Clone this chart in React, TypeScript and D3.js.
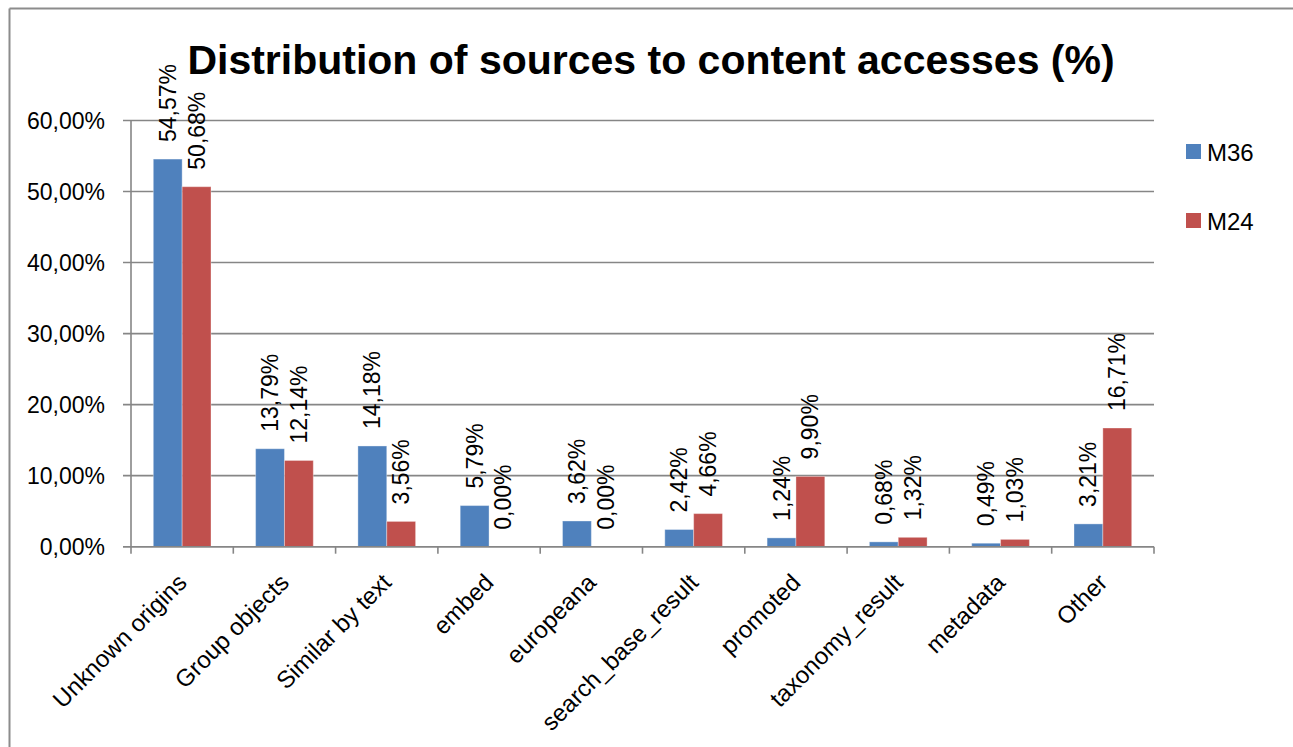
import React, { useEffect } from "react";
import * as d3 from "d3";

const categories = [
  "Unknown origins",
  "Group objects",
  "Similar by text",
  "embed",
  "europeana",
  "search_base_result",
  "promoted",
  "taxonomy_result",
  "metadata",
  "Other",
];
const seriesNames = ["M36", "M24"];
const m36 = [54.57, 13.79, 14.18, 5.79, 3.62, 2.42, 1.24, 0.68, 0.49, 3.21];
const m24 = [50.68, 12.14, 3.56, 0.0, 0.0, 4.66, 9.9, 1.32, 1.03, 16.71];
const yTicks = [0, 10, 20, 30, 40, 50, 60];
const colors = ["#4F81BD", "#C0504D"];
const title = "Distribution of sources to content accesses (%)";

const fmt = (v: number) => v.toFixed(2).replace(".", ",") + "%";

export default function App() {
  useEffect(() => {
    document.body.style.margin = "0";
    document.body.style.overflow = "hidden";
  }, []);

  const W = 1293;
  const H = 747;
  const left = 131;
  const right = 1154;
  const top = 120.5;
  const bottom = 546.7;
  const font = "'Liberation Sans', Arial, sans-serif";

  const x0 = d3.scaleBand<string>().domain(categories).range([left, right]).padding(0);
  const bw = x0.bandwidth();
  const x1 = d3
    .scaleBand<string>()
    .domain(seriesNames)
    .range([bw * 0.218, bw * 0.782])
    .padding(0);
  const y = d3.scaleLinear().domain([0, 60]).range([bottom, top]);
  const values = [m36, m24];

  return (
    <svg
      width={W}
      height={H}
      style={{ position: "absolute", left: 0, top: 0, background: "#fff", display: "block" }}
      fontFamily={font}
    >
      <rect x={0} y={0} width={W} height={H} fill="#fff" />
      <line x1={9.5} x2={W} y1={8.5} y2={8.5} stroke="#8c8c8c" strokeWidth={2} />
      <line x1={9.5} x2={9.5} y1={8.5} y2={H} stroke="#8c8c8c" strokeWidth={2} />
      <text
        x={651}
        y={74}
        textAnchor="middle"
        fontSize={41}
        fontWeight="bold"
        fill="#000"
      >
        {title}
      </text>

      {/* gridlines and y ticks */}
      {yTicks.map((t) => (
        <g key={t}>
          <line
            x1={left - 8}
            x2={right}
            y1={y(t)}
            y2={y(t)}
            stroke="#868686"
            strokeWidth={1.6}
          />
          <text
            x={105}
            y={y(t)}
            textAnchor="end"
            dominantBaseline="central"
            fontSize={23}
            fill="#000"
          >
            {t.toFixed(2).replace(".", ",") + "%"}
          </text>
        </g>
      ))}
      {/* y axis */}
      <line x1={left} x2={left} y1={top} y2={bottom} stroke="#868686" strokeWidth={1.6} />

      {/* bars */}
      {categories.map((c, i) => (
        <g key={c}>
          {seriesNames.map((s, j) => {
            const v = values[j][i];
            const bx = (x0(c) as number) + (x1(s) as number);
            const w = x1.bandwidth();
            return (
              <g key={s}>
                <rect
                  x={bx}
                  y={y(v)}
                  width={w}
                  height={bottom - y(v)}
                  fill={colors[j]}
                  stroke="#ffffff"
                  strokeOpacity={0.35}
                  strokeWidth={1}
                />
                <text
                  transform={`translate(${bx + w / 2},${y(v) - 17}) rotate(-90)`}
                  textAnchor="start"
                  dominantBaseline="central"
                  fontSize={23}
                  fill="#000"
                >
                  {fmt(v)}
                </text>
              </g>
            );
          })}
        </g>
      ))}

      {/* x axis */}
      <line x1={left - 8} x2={right} y1={bottom} y2={bottom} stroke="#868686" strokeWidth={1.6} />
      {d3.range(categories.length + 1).map((k) => {
        const xx = left + k * bw;
        return (
          <line key={k} x1={xx} x2={xx} y1={bottom} y2={bottom + 7} stroke="#868686" strokeWidth={1.6} />
        );
      })}
      {categories.map((c) => {
        const cx = (x0(c) as number) + bw / 2;
        return (
          <text
            key={c}
            transform={`translate(${cx + 6},${584}) rotate(-45)`}
            textAnchor="end"
            fontSize={24}
            fill="#000"
          >
            {c}
          </text>
        );
      })}

      {/* legend */}
      {seriesNames.map((s, j) => (
        <g key={s} transform={`translate(1186,${144 + j * 69})`}>
          <rect x={0} y={0} width={15} height={15} fill={colors[j]} />
          <text x={21} y={8} dominantBaseline="central" fontSize={24} fill="#000">
            {s}
          </text>
        </g>
      ))}
    </svg>
  );
}
